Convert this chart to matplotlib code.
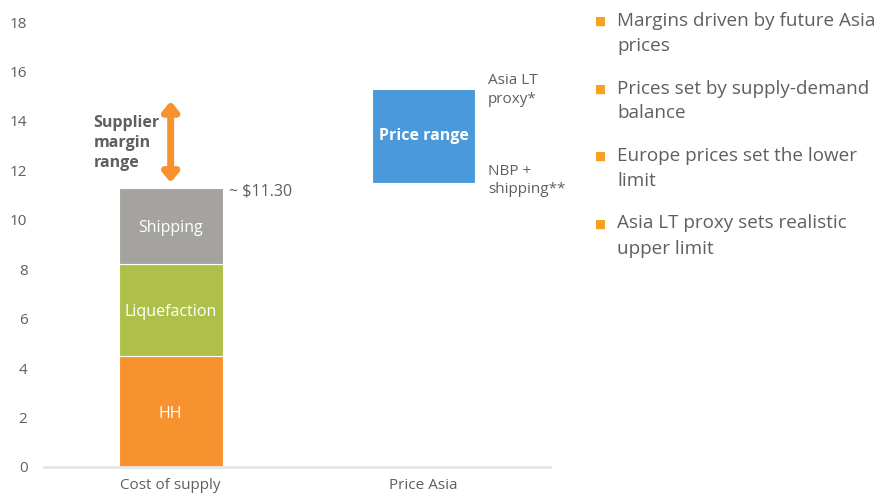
import matplotlib.pyplot as plt

plt.rcParams['font.family'] = ['Open Sans', 'DejaVu Sans']

# ---- data ----
categories = ['Cost of supply', 'Price Asia']
cost_parts = ['HH', 'Liquefaction', 'Shipping']
cost_values = [4.5, 3.7, 3.1]
cost_colors = ['#F7922F', '#AFC04A', '#A5A39F']
price_low = 11.5
price_high = 15.3
margin_low = 11.5
margin_high = 14.8
yticks = [0, 2, 4, 6, 8, 10, 12, 14, 16, 18]
bullets = ['Margins driven by future Asia\nprices',
           'Prices set by supply-demand\nbalance',
           'Europe prices set the lower\nlimit',
           'Asia LT proxy sets realistic\nupper limit']

txt = '#5f5f5f'
fig = plt.figure(figsize=(8.83, 5), dpi=100)
ax = fig.add_axes([0.05, 0.066, 0.573, 0.89])

width = 0.41
bottom = 0
for name, val, col in zip(cost_parts, cost_values, cost_colors):
    ax.bar(0, val, width, bottom=bottom, color=col, edgecolor='white', linewidth=0.8)
    ax.text(0, bottom + val / 2 - 0.1, name, ha='center', va='center', color='white', fontsize=11.5)
    bottom += val
total = bottom

ax.bar(1, price_high - price_low, width, bottom=price_low, color='#4A9ADB',
       edgecolor='white', linewidth=0.8)
ax.text(1, (price_low + price_high) / 2, 'Price range', ha='center', va='center',
        color='white', fontsize=11.5, fontweight='bold')

ax.text(0.23, total - 0.15, '~ $%.2f' % total, ha='left', va='center', color=txt, fontsize=11.5)
ax.text(1.255, price_high - 0.05, 'Asia LT\nproxy*', ha='left', va='center', color=txt,
        fontsize=11, linespacing=1.3)
ax.text(1.255, price_low + 0.1, 'NBP +\nshipping**', ha='left', va='center', color=txt,
        fontsize=11, linespacing=1.3)

ax.annotate('', xy=(0, margin_high), xytext=(0, margin_low),
            arrowprops=dict(arrowstyle='<|-|>,head_length=0.55,head_width=0.45',
                            color='#F7922F', lw=5, shrinkA=0, shrinkB=0))
ax.text(-0.305, 13.1, 'Supplier\nmargin\nrange', ha='left', va='center', color=txt,
        fontsize=11.5, fontweight='bold', linespacing=1.35)

ax.set_xlim(-0.5, 1.5)
ax.set_ylim(0, 18)
ax.set_yticks(yticks)
ax.set_xticks([0, 1])
ax.set_xticklabels(categories)
for s in ['top', 'right', 'left']:
    ax.spines[s].set_visible(False)
ax.spines['bottom'].set_color('#e6e6e6')
ax.spines['bottom'].set_linewidth(2)
ax.tick_params(axis='both', length=0, colors=txt, labelsize=11)
ax.tick_params(axis='y', pad=12)
ax.tick_params(axis='x', pad=8)

y = 0.976
for b in bullets:
    fig.text(0.674, y - 0.019, '\u25A0', color='#F7A11F', fontsize=8.5, va='center', ha='left')
    fig.text(0.699, y, b, color=txt, fontsize=13.6, va='top', ha='left', linespacing=1.5)
    y -= 0.135

fig.savefig('out.png', dpi=100)
